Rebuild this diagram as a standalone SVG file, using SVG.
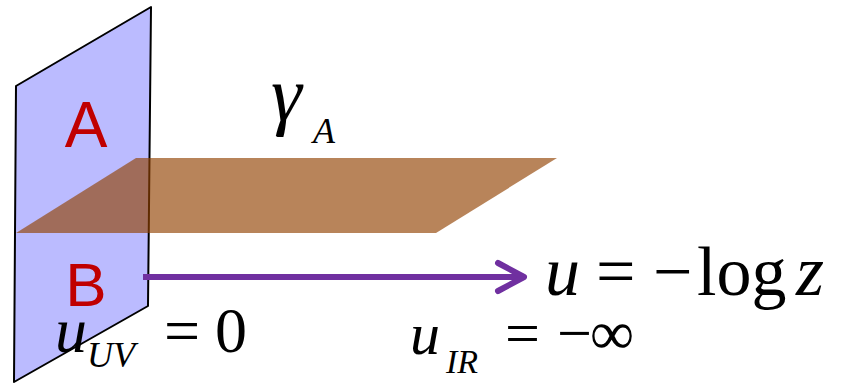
<svg xmlns="http://www.w3.org/2000/svg" width="846" height="383" viewBox="0 0 846 383">
<style>
.lbl{font-family:'Liberation Sans',Arial,sans-serif;fill:#C00000;text-anchor:middle}
</style>
<rect width="846" height="383" fill="#fff"/>
<g id="boundary-plane">
<polygon points="16,86 151,7 148,306 14,382" fill="#BBBBFF" stroke="#000" stroke-width="2" stroke-linejoin="round"/>
</g>
<g id="surface-gamma">
<polygon points="136,158 557,158 436,233 16,233" fill="rgb(146,66,1)" fill-opacity="0.65"/>
</g>
<g id="label-A"><text class="lbl" x="86" y="147" font-size="64">A</text></g>
<g id="label-B"><text class="lbl" x="86" y="306" font-size="62">B</text></g>
<g id="connectors">
<line x1="143" y1="277" x2="522" y2="277" stroke="#7030A0" stroke-width="6"/>
<polyline points="498,263 524,277 498,291" fill="none" stroke="#7030A0" stroke-width="6" stroke-linecap="round" stroke-linejoin="round"/>
</g>
<g id="math" style="font-family:'Liberation Serif',serif" fill="#000">
<g id="label-gamma">
<text x="271" y="120" font-size="78" font-style="italic">γ</text>
<text x="313" y="143" font-size="36" font-style="italic">A</text>
</g>
<g id="label-u">
<text x="545" y="295" font-size="70" font-style="italic">u</text>
<text x="596" y="295" font-size="70">=</text>
<text x="653" y="295" font-size="70">−</text>
<text x="697" y="295" font-size="70">log</text>
<text x="796" y="295" font-size="72" font-style="italic">z</text>
</g>
<g id="label-uUV">
<text x="55" y="352" font-size="64" font-style="italic">u</text>
<text x="87" y="367" font-size="36" font-style="italic">UV</text>
<text x="164" y="352" font-size="64">=</text>
<text x="215" y="352" font-size="64">0</text>
</g>
<g id="label-uIR">
<text x="410" y="354" font-size="60" font-style="italic">u</text>
<text x="446" y="373" font-size="34" font-style="italic">IR</text>
<text x="505" y="354" font-size="62">=</text>
<text x="557" y="354" font-size="62">−</text>
<text x="590" y="354" font-size="62">∞</text>
</g>
</g>
</svg>
